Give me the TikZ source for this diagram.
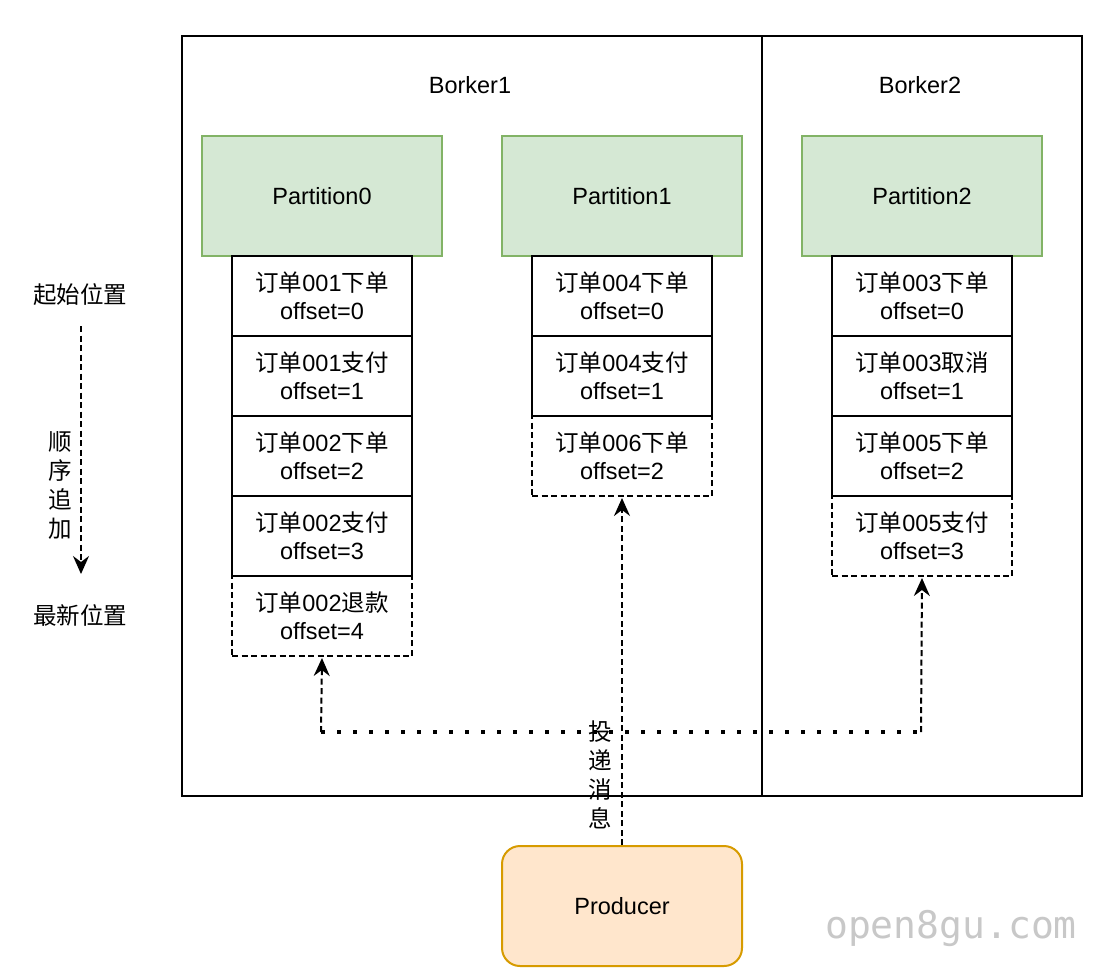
\documentclass[tikz,border=0pt]{standalone}
\usepackage{fontspec}
\setmainfont{Liberation Sans}
\newfontfamily\cjk{Noto Sans CJK SC}
\newfontfamily\wmfont{DejaVu Sans Mono}
\usetikzlibrary{arrows.meta}
\definecolor{partfill}{HTML}{D5E8D4}
\definecolor{partline}{HTML}{82B366}
\definecolor{prodfill}{HTML}{FFE6CC}
\definecolor{prodline}{HTML}{D79B00}
\definecolor{wmgray}{HTML}{C8C8C8}
\newcommand{\cj}[1]{{\cjk #1}}
\begin{document}
\begin{tikzpicture}[x=1pt,y=-1pt,
  txt/.style={font=\fontsize{23.5}{28}\selectfont, text=black},
  broker/.style={draw, line width=2pt, anchor=north west, inner sep=0pt, minimum height=760pt},
  cell/.style={draw, line width=2pt, minimum width=180pt, minimum height=80pt, inner sep=0pt, align=center, anchor=north west, txt},
  newcell/.style={cell, dash pattern=on 6pt off 3.5pt},
  part/.style={draw=partline, fill=partfill, line width=2pt, minimum width=240pt, minimum height=120pt, inner sep=0pt, anchor=north west, txt},
  prod/.style={draw=prodline, fill=prodfill, line width=2pt, rounded corners=18pt, minimum width=240pt, minimum height=120pt, inner sep=0pt, anchor=north west, txt},
  darrow/.style={line width=2pt, dash pattern=on 6pt off 3.5pt, -{Stealth[length=18pt,width=16pt,inset=6pt]}, shorten >=1pt},
  dotline/.style={line width=3.5pt, dash pattern=on 3.5pt off 12.5pt},
  vlabel/.style={font=\fontsize{23.5}{29}\selectfont\cjk, align=center, inner sep=0pt}
]
\useasboundingbox (0,0) rectangle (1098,978);
\fill[white] (0,0) rectangle (1098,978);

% brokers
\node[broker, minimum width=580pt] (b1) at (181,35) {};
\node[broker, minimum width=320pt] (b2) at (761,35) {};
\node[txt] (b1l) at (470,85) {Borker1};
\node[txt] (b2l) at (920,85) {Borker2};

% partitions
\node[part] (p0) at (201,135) {Partition0};
\node[part] (p1) at (501,135) {Partition1};
\node[part] (p2) at (801,135) {Partition2};

% partition 0 cells
\node[cell] (c00) at (231,255) {\cj{订单}001\cj{下单}\\offset=0};
\node[cell] (c01) at (231,335) {\cj{订单}001\cj{支付}\\offset=1};
\node[cell] (c02) at (231,415) {\cj{订单}002\cj{下单}\\offset=2};
\node[cell] (c03) at (231,495) {\cj{订单}002\cj{支付}\\offset=3};
\node[newcell] (c04) at (231,575) {\cj{订单}002\cj{退款}\\offset=4};

% partition 1 cells
\node[cell] (c10) at (531,255) {\cj{订单}004\cj{下单}\\offset=0};
\node[cell] (c11) at (531,335) {\cj{订单}004\cj{支付}\\offset=1};
\node[newcell] (c12) at (531,415) {\cj{订单}006\cj{下单}\\offset=2};

% partition 2 cells
\node[cell] (c20) at (831,255) {\cj{订单}003\cj{下单}\\offset=0};
\node[cell] (c21) at (831,335) {\cj{订单}003\cj{取消}\\offset=1};
\node[cell] (c22) at (831,415) {\cj{订单}005\cj{下单}\\offset=2};
\node[newcell] (c23) at (831,495) {\cj{订单}005\cj{支付}\\offset=3};

% producer
\node[prod] (pr) at (501,845) {Producer};

% delivery connectors
\coordinate (j0) at (321,732);
\coordinate (j2) at (921,732);
\draw[dotline] (j0) -- (j2);
\draw[darrow] (j0) -- (c04.south);
\draw[darrow] (j2) -- (c23.south);
\draw[darrow] (pr.north) -- (c12.south);
\node[vlabel] (deliver) at (600,775) {投\\递\\消\\息};

% left side
\node[txt, font=\fontsize{23.5}{28}\selectfont\cjk] (start) at (80,295) {起始位置};
\node[txt, font=\fontsize{23.5}{28}\selectfont\cjk] (latest) at (80,615) {最新位置};
\coordinate (ls) at (81,326);
\coordinate (le) at (81,575);
\draw[darrow] (ls) -- (le);
\node[vlabel] (append) at (60,485) {顺\\序\\追\\加};

% watermark
\node[font=\fontsize{38}{38}\selectfont\wmfont, text=wmgray, inner sep=0pt] (wm) at (951,928) {open8gu.com};
\end{tikzpicture}
\end{document}
